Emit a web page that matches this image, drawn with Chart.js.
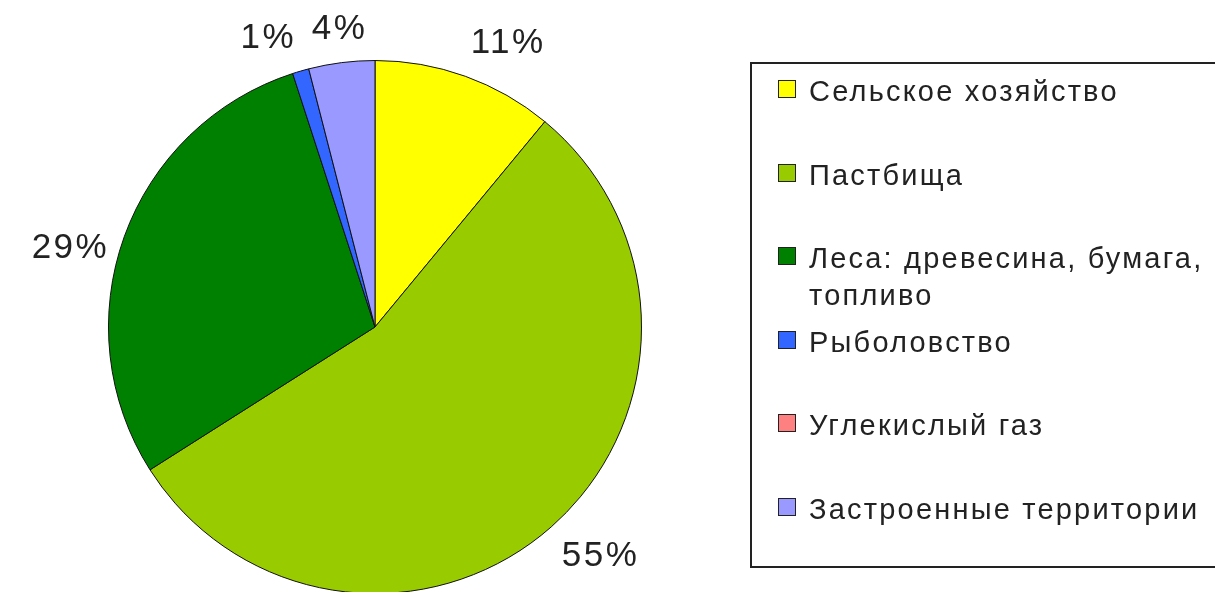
<!DOCTYPE html>
<html>
<head>
<meta charset="utf-8">
<script src="https://cdn.jsdelivr.net/npm/chart.js@4"></script>
<style>
  html, body { margin: 0; padding: 0; background: #fff; overflow: hidden; }
  body { width: 1215px; height: 592px; position: relative; font-family: "Liberation Sans", Arial, sans-serif; }
  #wrap { position: absolute; left: 0; top: 0; width: 1215px; height: 600px; }
  #legend {
    position: absolute; left: 750px; top: 62px; width: 520px; height: 506px;
    border: 2px solid #222; box-sizing: border-box; padding-top: 12px;
  }
  .item { display: flex; align-items: flex-start; height: 83.5px; }
  .box { width: 16px; height: 16px; border: 1px solid #222; margin: 4px 13px 0 26px; flex: none; }
  .label { font-size: 29px; letter-spacing: 2.2px; line-height: 37px; color: #222; width: 400px; margin-top: -3px; }
</style>
</head>
<body>
<div id="wrap"><canvas id="chart" width="1215" height="600"></canvas></div>
<div id="legend"></div>
<script>
const categories = [
  "Сельское хозяйство",
  "Пастбища",
  "Леса: древесина, бумага, топливо",
  "Рыболовство",
  "Углекислый газ",
  "Застроенные территории"
];
const shares = [11, 55, 29, 1, 0, 4];
const colors = ["#ffff00", "#99cc00", "#008000", "#3366ff", "#ff8080", "#9999ff"];

// legend in html, built from the same arrays
const legend = document.getElementById("legend");
categories.forEach((name, i) => {
  let item = document.createElement("div");
  item.className = "item";
  let box = document.createElement("div");
  box.className = "box";
  box.style.background = colors[i];
  let label = document.createElement("div");
  label.className = "label";
  label.textContent = name;
  item.append(box, label);
  legend.append(item);
});

// percentages outside the slices, anchored like an office chart does it
const outsideLabels = {
  id: "outsideLabels",
  afterDatasetsDraw(chart) {
    const ctx = chart.ctx;
    const meta = chart.getDatasetMeta(0);
    ctx.save();
    ctx.font = "35px 'Liberation Sans', Arial, sans-serif";
    ctx.letterSpacing = "2.5px";
    ctx.fillStyle = "#222";
    meta.data.forEach((arc, i) => {
      const v = shares[i];
      if (!v) return;
      const p = arc.getProps(["x", "y", "startAngle", "endAngle", "outerRadius"], true);
      const mid = (p.startAngle + p.endAngle) / 2;
      const cos = Math.cos(mid), sin = Math.sin(mid);
      const r = p.outerRadius + 16;
      const px = p.x + cos * r, py = p.y + sin * r;
      ctx.textAlign = cos > 0.2 ? "left" : (cos < -0.2 ? "right" : "center");
      if (sin < -0.4) ctx.textBaseline = "bottom";
      else if (sin > 0.4) ctx.textBaseline = "top";
      else ctx.textBaseline = sin < 0 ? "top" : "bottom";
      ctx.fillText(v + "%", px, py);
    });
    ctx.restore();
  }
};

new Chart(document.getElementById("chart").getContext("2d"), {
  type: "pie",
  data: {
    labels: categories,
    datasets: [{
      data: shares,
      backgroundColor: colors,
      borderColor: "#111",
      borderWidth: 1
    }]
  },
  options: {
    responsive: false,
    animation: false,
    layout: { padding: { left: 108, top: 60, right: 573, bottom: 6 } },
    plugins: {
      legend: { display: false },
      tooltip: { enabled: false }
    }
  },
  plugins: [outsideLabels]
});
</script>
</body>
</html>
